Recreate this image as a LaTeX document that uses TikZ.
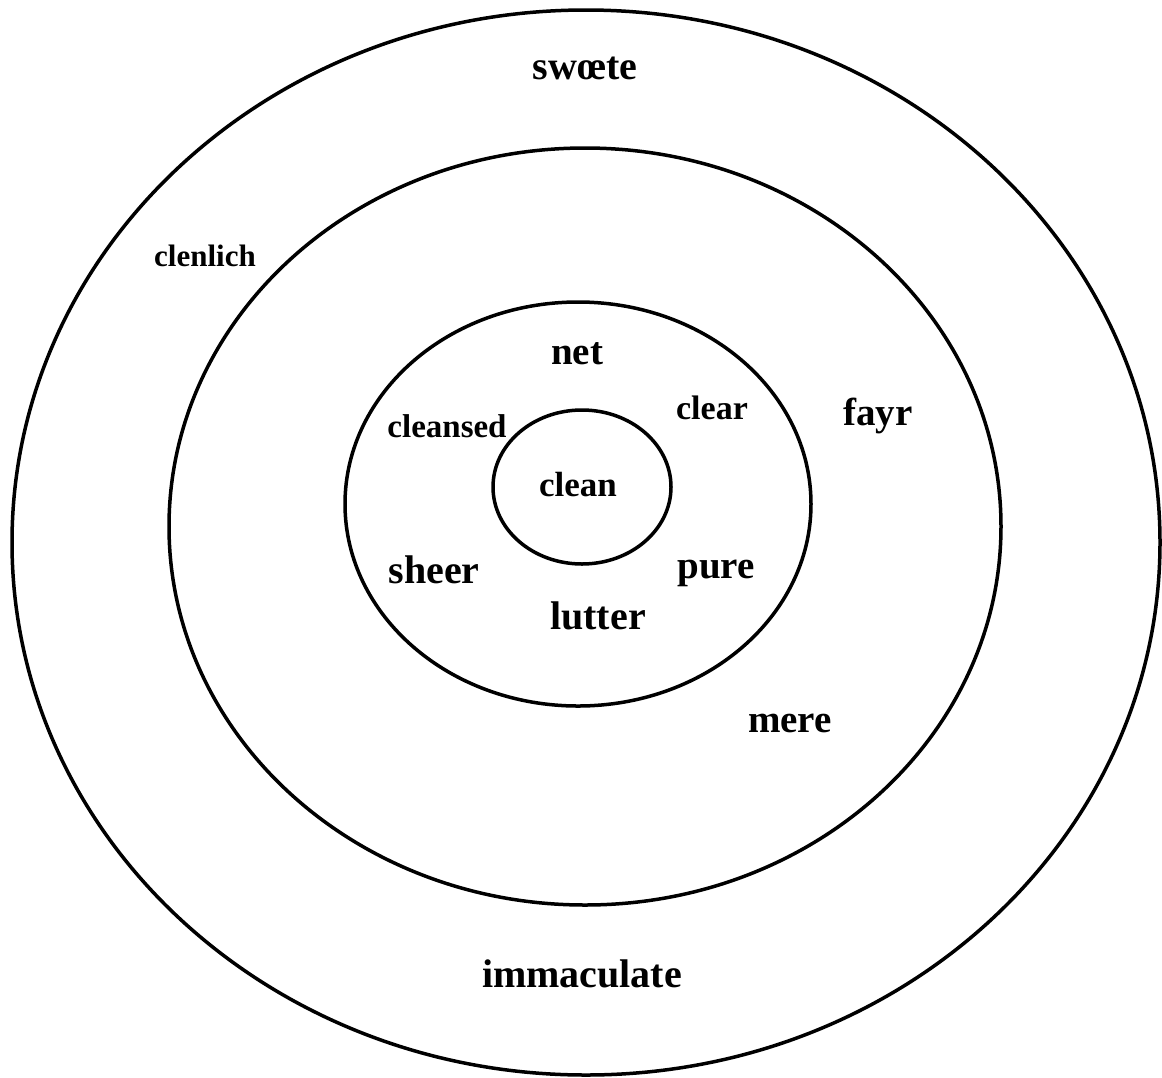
\documentclass[tikz,border=0pt]{standalone}
\usepackage{fontspec}
\setmainfont{Liberation Serif}
\tikzset{
  ring/.style={draw=black, line width=3.5pt},
  word/.style={anchor=base, inner sep=0pt, font=\bfseries\fontsize{#1}{#1}\selectfont},
}
\begin{document}
\begin{tikzpicture}[x=1pt,y=-1pt]
\useasboundingbox (0,0) rectangle (1162,1077);
\fill[white] (0,0) rectangle (1162,1077);
\draw[ring] (586,542.5) ellipse [x radius=574, y radius=532.5];
\draw[ring] (585,526.5) ellipse [x radius=416, y radius=378.5];
\draw[ring] (578,504) ellipse [x radius=233, y radius=202];
\draw[ring] (582,487) ellipse [x radius=89, y radius=77];
\node[word=40] (swoete) at (585,79) {swœte};
\node[word=31] (clenlich) at (205,266) {clenlich};
\node[word=39] (net) at (577,364) {net};
\node[word=34] (clear) at (712,419) {clear};
\node[word=39] (fayr) at (878,425) {fayr};
\node[word=33] (cleansed) at (447,437) {cleansed};
\node[word=35] (clean) at (578,496) {clean};
\node[word=40] (sheer) at (434,583) {sheer};
\node[word=39] (pure) at (716,578) {pure};
\node[word=40] (lutter) at (598,629) {lutter};
\node[word=39] (mere) at (790,732) {mere};
\node[word=40] (immaculate) at (582,987) {immaculate};
\end{tikzpicture}
\end{document}
